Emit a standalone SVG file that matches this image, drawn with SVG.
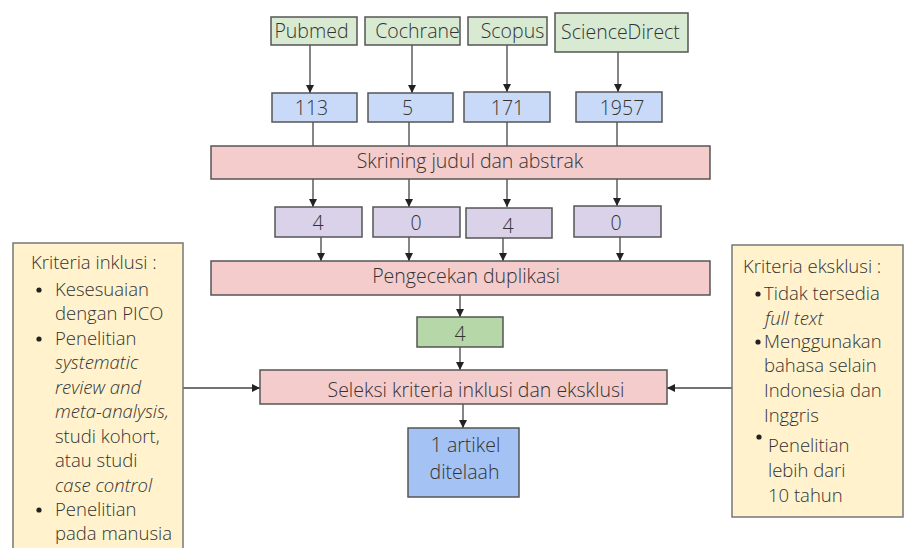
<svg xmlns="http://www.w3.org/2000/svg" width="906" height="548" viewBox="0 0 906 548">
<style>
text{font-family:"Open Sans","Noto Sans","Liberation Sans",sans-serif;font-weight:300;font-size:18.5px;fill:#333}
.c{text-anchor:middle;font-size:19.5px}
.i{font-style:italic}
.box{stroke:#555;stroke-width:1.5}
.src{fill:#d9ead3}
.num{fill:#c9daf8}
.bar{fill:#f4cccc}
.lav{fill:#d9d2e9}
.grn{fill:#b6d7a8}
.fin{fill:#a4c2f4}
.crit{fill:#fff2cc;stroke:#777;stroke-width:1.5}
.ln{stroke:#444;stroke-width:1.3;fill:none}
.bul{fill:#222}
</style>
<defs>
<marker id="ah" markerUnits="userSpaceOnUse" markerWidth="10" markerHeight="10" refX="8" refY="4" orient="auto">
<path d="M0,0 L8,4 L0,8 Z" fill="#222"/>
</marker>
</defs>
<rect width="906" height="548" fill="#fff"/>
<g id="connectors">
<line class="ln" x1="310" y1="45" x2="310" y2="93" marker-end="url(#ah)"/>
<line class="ln" x1="412" y1="45" x2="412" y2="93" marker-end="url(#ah)"/>
<line class="ln" x1="507" y1="45" x2="507" y2="92" marker-end="url(#ah)"/>
<line class="ln" x1="618" y1="52" x2="618" y2="92" marker-end="url(#ah)"/>
<line class="ln" x1="313" y1="122" x2="313" y2="146"/>
<line class="ln" x1="409" y1="122" x2="409" y2="146"/>
<line class="ln" x1="507" y1="122" x2="507" y2="146"/>
<line class="ln" x1="617" y1="122" x2="617" y2="146"/>
<line class="ln" x1="313" y1="179" x2="313" y2="207" marker-end="url(#ah)"/>
<line class="ln" x1="409" y1="179" x2="409" y2="207" marker-end="url(#ah)"/>
<line class="ln" x1="507" y1="179" x2="507" y2="207" marker-end="url(#ah)"/>
<line class="ln" x1="617" y1="179" x2="617" y2="206" marker-end="url(#ah)"/>
<line class="ln" x1="321" y1="237" x2="321" y2="261" marker-end="url(#ah)"/>
<line class="ln" x1="409" y1="237" x2="409" y2="261" marker-end="url(#ah)"/>
<line class="ln" x1="503" y1="238" x2="503" y2="261" marker-end="url(#ah)"/>
<line class="ln" x1="620" y1="237" x2="620" y2="261" marker-end="url(#ah)"/>
<line class="ln" x1="460" y1="295" x2="460" y2="317" marker-end="url(#ah)"/>
<line class="ln" x1="460" y1="347" x2="460" y2="370" marker-end="url(#ah)"/>
<line class="ln" x1="463" y1="404" x2="463" y2="428" marker-end="url(#ah)"/>
<line class="ln" x1="183" y1="388" x2="260" y2="388" marker-end="url(#ah)"/>
<line class="ln" x1="732" y1="388" x2="667" y2="388" marker-end="url(#ah)"/>
</g>
<g id="pubmed"><rect class="box src" x="271" y="17" width="86" height="28"/><text class="c" x="311.5" y="38">Pubmed</text></g>
<g id="cochrane"><rect class="box src" x="365" y="17" width="95" height="28"/><text class="c" x="417.5" y="38">Cochrane</text></g>
<g id="scopus"><rect class="box src" x="468" y="17" width="79" height="28"/><text class="c" x="512.5" y="38">Scopus</text></g>
<g id="sciencedirect"><rect class="box src" x="555" y="13" width="133" height="39"/><text class="c" x="620.5" y="39">ScienceDirect</text></g>
<g id="n113"><rect class="box num" x="272" y="93" width="85" height="29"/><text class="c" x="311.5" y="115">113</text></g>
<g id="n5"><rect class="box num" x="368" y="93" width="85" height="29"/><text class="c" x="407.5" y="115">5</text></g>
<g id="n171"><rect class="box num" x="464" y="92" width="86" height="30"/><text class="c" x="507.5" y="115">171</text></g>
<g id="n1957"><rect class="box num" x="576" y="92" width="86" height="30"/><text class="c" x="622" y="115">1957</text></g>
<g id="skrining"><rect class="box bar" x="211" y="146" width="499" height="33"/><text class="c" x="470" y="168">Skrining judul dan abstrak</text></g>
<g id="s1"><rect class="box lav" x="275" y="207" width="87" height="30"/><text class="c" x="318" y="230">4</text></g>
<g id="s2"><rect class="box lav" x="373" y="207" width="87" height="30"/><text class="c" x="416" y="230">0</text></g>
<g id="s3"><rect class="box lav" x="466" y="208" width="86" height="30"/><text class="c" x="508" y="233">4</text></g>
<g id="s4"><rect class="box lav" x="574" y="206" width="87" height="31"/><text class="c" x="616" y="230">0</text></g>
<g id="duplikasi"><rect class="box bar" x="211" y="261" width="499" height="34"/><text class="c" x="466" y="283">Pengecekan duplikasi</text></g>
<g id="hasil4"><rect class="box grn" x="417" y="317" width="86" height="30"/><text class="c" x="460" y="341">4</text></g>
<g id="seleksi"><rect class="box bar" x="260" y="370" width="407" height="34"/><text class="c" x="476" y="397">Seleksi kriteria inklusi dan eksklusi</text></g>
<g id="final"><rect class="box fin" x="408" y="428" width="111" height="69"/><text class="c" x="465.5" y="452">1 artikel</text><text class="c" x="464.5" y="479">ditelaah</text></g>
<g id="inklusi">
<rect class="crit" x="13" y="243" width="170" height="310"/>
<text x="31" y="269">Kriteria inklusi :</text>
<circle class="bul" cx="39" cy="290" r="2.6"/>
<circle class="bul" cx="39" cy="339" r="2.6"/>
<circle class="bul" cx="39" cy="510" r="2.6"/>
<text x="55" y="296">Kesesuaian</text>
<text x="55" y="320">dengan PICO</text>
<text x="55" y="345">Penelitian</text>
<text class="i" x="55" y="369">systematic</text>
<text class="i" x="55" y="394">review and</text>
<text class="i" x="55" y="418">meta-analysis,</text>
<text x="55" y="443">studi kohort,</text>
<text x="55" y="467">atau studi</text>
<text class="i" x="55" y="492">case control</text>
<text x="55" y="516">Penelitian</text>
<text x="55" y="540">pada manusia</text>
</g>
<g id="eksklusi">
<rect class="crit" x="732" y="245" width="171" height="272"/>
<text x="743" y="273">Kriteria eksklusi :</text>
<circle class="bul" cx="758" cy="294" r="2.6"/>
<circle class="bul" cx="758" cy="342" r="2.6"/>
<circle class="bul" cx="759" cy="437" r="2.6"/>
<text x="764" y="300">Tidak tersedia</text>
<text class="i" x="765" y="325">full text</text>
<text x="764" y="348">Menggunakan</text>
<text x="764" y="372">bahasa selain</text>
<text x="764" y="397">Indonesia dan</text>
<text x="764" y="422">Inggris</text>
<text x="768" y="452">Penelitian</text>
<text x="768" y="477">lebih dari</text>
<text x="768" y="502">10 tahun</text>
</g>
</svg>
